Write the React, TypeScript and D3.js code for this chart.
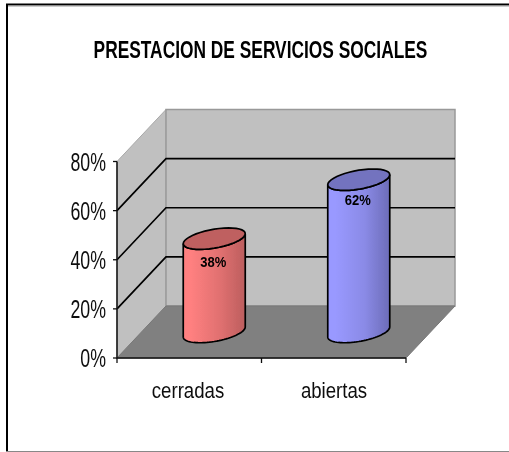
import React from "react";
import * as d3 from "d3";

const W = 509, H = 452;
const categories = ["cerradas", "abiertas"];
const categoryX = [188, 334];
const values = [38, 62];
const valueLabels = ["38%", "62%"];
const yTicks = [0, 20, 40, 60, 80];
const bodyColors = [["#ff8080", "#e07070", "#bc5e5e"], ["#9999ff", "#8a8ae6", "#6c6cb8"]];
const topColors = ["#bf6060", "#7373bf"];

const x0 = 117, x1 = 406, dx = 49, dy = -52;
const y = d3.scaleLinear().domain([0, 80]).range([358, 161.5]);
const band = d3.scaleBand<string>().domain(categories).range([x0, x1]);
const depth = 0.5;
const rx = 31, ry = 9.5, tilt = 5;

function ellipseAt(cx: number, cy: number, from: number, to: number) {
  const ang = d3.range(0, 41).map((i) => from + ((to - from) * i) / 40);
  return ang.map((t) => [cx + rx * Math.cos(t), cy + ry * Math.sin(t) - tilt * Math.cos(t)] as [number, number]);
}
const line = d3.line();
const poly = (pts: [number, number][]) => line(pts) + "Z";
const font = "'Liberation Sans', Arial, sans-serif";
const squeeze = (x: number, yy: number, sx: number) => `translate(${x},${yy}) scale(${sx},1)`;

export default function App() {
  return (
    <svg width={W} height={H} style={{ position: "fixed", left: 0, top: 0, background: "#fff" }}>
      <defs>
        <filter id="soft" x="-5%" y="-5%" width="110%" height="110%"><feGaussianBlur stdDeviation="0.45" /></filter>
        {bodyColors.map((c, i) => (
          <linearGradient key={i} id={`g${i}`} x1="0" x2="1" y1="0" y2="0">
            <stop offset="0.12" stopColor={c[0]} />
            <stop offset="0.6" stopColor={c[1]} />
            <stop offset="1" stopColor={c[2]} />
          </linearGradient>
        ))}
      </defs>
      <g filter="url(#soft)">
        <path d={`M7,${H}V4.5H${W}`} fill="none" stroke="#000" strokeWidth={2} />
        <path d={`M8,6H${W}`} stroke="#999" strokeWidth={1} />
        <path d={`M6,${H - 0.5}H${W}`} stroke="#888" strokeWidth={1} />
        <text transform={squeeze(260.5, 58, 0.723)} textAnchor="middle" fontFamily={font} fontWeight="bold" fontSize={24} fill="#000">PRESTACION DE SERVICIOS SOCIALES</text>

        <path d={poly([[x0, y(0)], [x0 + dx, y(0) + dy], [x0 + dx, y(80) + dy], [x0, y(80)]])} fill="#c0c0c0" stroke="#a8a8a8" strokeWidth={1} />
        <path d={poly([[x0 + dx, y(0) + dy], [x1 + dx, y(0) + dy], [x1 + dx, y(80) + dy], [x0 + dx, y(80) + dy]])} fill="#c0c0c0" stroke="#999" strokeWidth={1.5} />
        <path d={poly([[x0, y(0)], [x1, y(0)], [x1 + dx, y(0) + dy], [x0 + dx, y(0) + dy]])} fill="#808080" stroke="#777" strokeWidth={1} />

        {yTicks.filter((t) => t > 0 && t < 80).map((t) => (
          <path key={t} d={`M${x0},${y(t)}L${x0 + dx},${y(t) + dy}H${x1 + dx}`} fill="none" stroke="#000" strokeWidth={1.7} />
        ))}

        <path d={`M${x0},${y(80)}V${y(0)}H${x1}`} fill="none" stroke="#111" strokeWidth={1.5} />
        {yTicks.map((t) => (
          <g key={t}>
            <line x1={x0 - 4} x2={x0} y1={y(t)} y2={y(t)} stroke="#111" strokeWidth={1.3} />
            <text transform={squeeze(106, y(t) + 9, 0.71)} textAnchor="end" fontFamily={font} fontSize={25} fill="#111">{t}%</text>
          </g>
        ))}
        {[x0, x0 + band.bandwidth(), x1].map((x) => (
          <line key={x} x1={x} x2={x} y1={y(0)} y2={y(0) + 5} stroke="#111" strokeWidth={1.3} />
        ))}
        {categories.map((c, i) => (
          <text key={c} transform={squeeze(categoryX[i], 398, 0.81)} textAnchor="middle" fontFamily={font} fontSize={23} fill="#111">{c}</text>
        ))}

        {categories.map((c, i) => {
          const cx = band(c)! + band.bandwidth() / 2 + dx * depth + 0.5;
          const yb = y(0) + dy * depth;
          const yt = y(values[i]) + dy * depth;
          const body: [number, number][] = [...ellipseAt(cx, yb, Math.PI, 0), ...ellipseAt(cx, yt, 0, Math.PI)];
          const top = ellipseAt(cx, yt, 0, 2 * Math.PI);
          return (
            <g key={c}>
              <path d={poly(body)} fill={`url(#g${i})`} stroke="#000" strokeWidth={1.7} />
              <path d={poly(top)} fill={topColors[i]} stroke="#000" strokeWidth={1.7} />
              <text transform={squeeze(cx - 1, yt + (i === 0 ? 28 : 25), 0.93)} textAnchor="middle" fontFamily={font} fontWeight="bold" fontSize={14} fill="#000">{valueLabels[i]}</text>
            </g>
          );
        })}
      </g>
    </svg>
  );
}
